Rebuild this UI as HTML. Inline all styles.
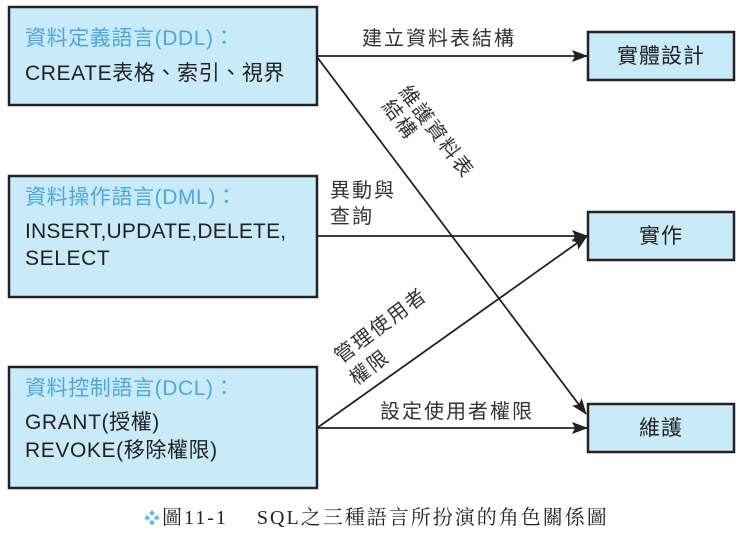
<!DOCTYPE html>
<html><head><meta charset="utf-8"><style>
html,body{margin:0;padding:0;background:#fff;width:741px;height:535px;overflow:hidden}
svg{display:block}
text{font-family:"Liberation Sans","Noto Sans CJK TC",sans-serif;}
</style></head><body>
<svg width="741" height="535" viewBox="0 0 741 535" xmlns="http://www.w3.org/2000/svg">
<defs>
<marker id="ah" markerWidth="16" markerHeight="12" refX="15" refY="6" orient="auto" markerUnits="userSpaceOnUse">
<path d="M0,0 L16,6 L0,12 L3,6 Z" fill="#222"/>
</marker>
</defs>
<g fill="#c8eaf9" stroke="#222" stroke-width="2.5">
<rect x="9" y="7" width="308" height="98"/>
<rect x="9" y="176" width="308" height="121"/>
<rect x="9" y="367" width="308" height="121"/>
<rect x="588" y="32" width="146" height="48"/>
<rect x="588" y="212" width="146" height="48"/>
<rect x="588" y="404" width="146" height="48"/>
</g>
<g stroke="#222" stroke-width="1.8" fill="none" marker-end="url(#ah)">
<line x1="317" y1="56" x2="587" y2="56"/>
<line x1="317" y1="57" x2="586" y2="414"/>
<line x1="317" y1="236" x2="587" y2="236"/>
<line x1="317" y1="428" x2="587" y2="236"/>
<line x1="317" y1="428" x2="587" y2="428"/>
</g>
<g font-size="21">
<text x="25" y="45" fill="#4aa8e0" letter-spacing="0.6">資料定義語言(DDL)：</text>
<text x="25" y="80" fill="#222" letter-spacing="0.6">CREATE表格、索引、視界</text>
<text x="25" y="204" fill="#4aa8e0" letter-spacing="0.6">資料操作語言(DML)：</text>
<text x="25" y="238" fill="#222" letter-spacing="0.2">INSERT,UPDATE,DELETE,</text>
<text x="25" y="265" fill="#222" letter-spacing="0.6">SELECT</text>
<text x="25" y="395" fill="#4aa8e0" letter-spacing="0.6">資料控制語言(DCL)：</text>
<text x="25" y="429" fill="#222" letter-spacing="0.6">GRANT(授權)</text>
<text x="25" y="457" fill="#222" letter-spacing="0.6">REVOKE(移除權限)</text>
<text x="661" y="63" text-anchor="middle" fill="#222" font-size="21" letter-spacing="1">實體設計</text>
<text x="661" y="243" text-anchor="middle" fill="#222" font-size="21" letter-spacing="1">實作</text>
<text x="661" y="435" text-anchor="middle" fill="#222" font-size="21" letter-spacing="1">維護</text>
<g fill="#333" font-size="20" letter-spacing="2">
<text x="362" y="45">建立資料表結構</text>
<text x="330" y="197">異動與</text>
<text x="330" y="223">查詢</text>
<text x="380" y="418">設定使用者權限</text>
<text transform="translate(398,92) rotate(53)">維護資料表</text>
<text transform="translate(381,106) rotate(53)">結構</text>
<text transform="translate(341,364) rotate(-37)">管理使用者</text>
<text transform="translate(356,386) rotate(-37)">權限</text>
</g>
</g>
<text x="144" y="524" font-size="16" fill="#6ab8e6">❖</text>
<text x="162" y="524" font-size="20" fill="#222" style='font-family:"Liberation Serif","Noto Serif CJK SC",serif' letter-spacing="2">圖11-1　 SQL之三種語言所扮演的角色關係圖</text>
</svg>
</body></html>
